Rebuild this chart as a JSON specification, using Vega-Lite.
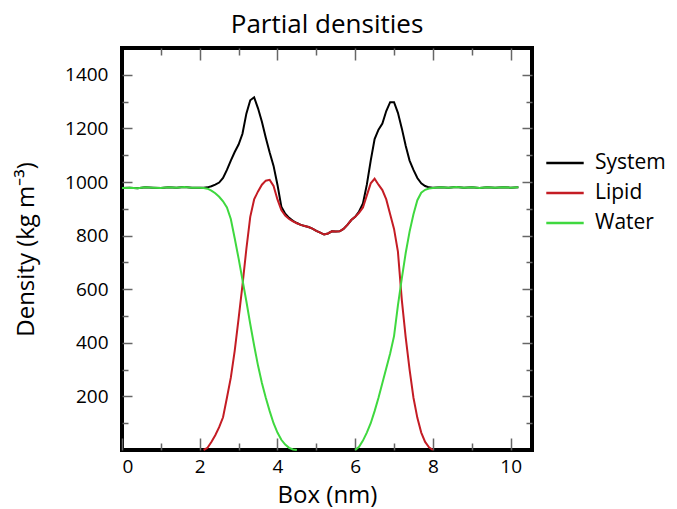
{
  "$schema": "https://vega.github.io/schema/vega-lite/v6.json",
  "width": 410,
  "height": 402,
  "autosize": {"type": "none"},
  "padding": {"left": 122, "top": 48, "right": 145, "bottom": 59},
  "title": {"text": "Partial densities", "fontSize": 26, "font": "Open Sans", "fontWeight": "normal", "color": "black", "offset": 9},
  "config": {
    "view": {"stroke": "black", "strokeWidth": 4},
    "font": "Open Sans",
    "axis": {
      "labelFont": "Open Sans", "labelFontSize": 19, "labelColor": "black",
      "titleFont": "Open Sans", "titleFontWeight": "normal", "titleColor": "black",
      "domain": false, "grid": false, "tickColor": "#666666", "tickWidth": 1.5
    },
    "legend": {"labelFont": "Open Sans", "labelFontSize": 21, "labelColor": "black"}
  },
  "data": {"values": [
    {"x": 0.0, "System": 978, "Lipid": null, "Water": 978},
    {"x": 0.2, "System": 979, "Lipid": null, "Water": 979},
    {"x": 0.4, "System": 977, "Lipid": null, "Water": 977},
    {"x": 0.6, "System": 980, "Lipid": null, "Water": 980},
    {"x": 0.8, "System": 979, "Lipid": null, "Water": 979},
    {"x": 1.0, "System": 978, "Lipid": null, "Water": 978},
    {"x": 1.2, "System": 980, "Lipid": null, "Water": 980},
    {"x": 1.4, "System": 979, "Lipid": null, "Water": 979},
    {"x": 1.6, "System": 981, "Lipid": null, "Water": 981},
    {"x": 1.8, "System": 979, "Lipid": null, "Water": 979},
    {"x": 2.0, "System": 979, "Lipid": null, "Water": 979},
    {"x": 2.1, "System": 979, "Lipid": 0, "Water": 978},
    {"x": 2.2, "System": 980, "Lipid": 8, "Water": 975},
    {"x": 2.3, "System": 984, "Lipid": 30, "Water": 968},
    {"x": 2.4, "System": 990, "Lipid": 55, "Water": 958},
    {"x": 2.5, "System": 998, "Lipid": 85, "Water": 945},
    {"x": 2.6, "System": 1015, "Lipid": 122, "Water": 928},
    {"x": 2.7, "System": 1045, "Lipid": 195, "Water": 905},
    {"x": 2.8, "System": 1080, "Lipid": 270, "Water": 862},
    {"x": 2.9, "System": 1112, "Lipid": 370, "Water": 790},
    {"x": 3.0, "System": 1140, "Lipid": 490, "Water": 715},
    {"x": 3.1, "System": 1180, "Lipid": 615, "Water": 635},
    {"x": 3.2, "System": 1255, "Lipid": 750, "Water": 555},
    {"x": 3.3, "System": 1305, "Lipid": 870, "Water": 470},
    {"x": 3.4, "System": 1316, "Lipid": 935, "Water": 390},
    {"x": 3.5, "System": 1275, "Lipid": 965, "Water": 315},
    {"x": 3.6, "System": 1225, "Lipid": 990, "Water": 250},
    {"x": 3.7, "System": 1165, "Lipid": 1005, "Water": 195},
    {"x": 3.8, "System": 1110, "Lipid": 1008, "Water": 145},
    {"x": 3.9, "System": 1060, "Lipid": 985, "Water": 100},
    {"x": 4.0, "System": 990, "Lipid": 935, "Water": 65},
    {"x": 4.1, "System": 908, "Lipid": 895, "Water": 38},
    {"x": 4.2, "System": 882, "Lipid": 875, "Water": 20},
    {"x": 4.3, "System": 866, "Lipid": 862, "Water": 8},
    {"x": 4.4, "System": 855, "Lipid": 853, "Water": 2},
    {"x": 4.5, "System": 847, "Lipid": 846, "Water": 0},
    {"x": 4.6, "System": 840, "Lipid": 840, "Water": null},
    {"x": 4.7, "System": 836, "Lipid": 836, "Water": null},
    {"x": 4.8, "System": 832, "Lipid": 832, "Water": null},
    {"x": 4.9, "System": 826, "Lipid": 826, "Water": null},
    {"x": 5.0, "System": 818, "Lipid": 818, "Water": null},
    {"x": 5.1, "System": 811, "Lipid": 811, "Water": null},
    {"x": 5.2, "System": 804, "Lipid": 804, "Water": null},
    {"x": 5.3, "System": 808, "Lipid": 808, "Water": null},
    {"x": 5.4, "System": 816, "Lipid": 816, "Water": null},
    {"x": 5.5, "System": 815, "Lipid": 815, "Water": null},
    {"x": 5.6, "System": 816, "Lipid": 816, "Water": null},
    {"x": 5.7, "System": 825, "Lipid": 825, "Water": null},
    {"x": 5.8, "System": 840, "Lipid": 840, "Water": null},
    {"x": 5.9, "System": 858, "Lipid": 858, "Water": null},
    {"x": 6.0, "System": 870, "Lipid": 870, "Water": 0},
    {"x": 6.1, "System": 890, "Lipid": 885, "Water": 12},
    {"x": 6.2, "System": 920, "Lipid": 905, "Water": 35},
    {"x": 6.3, "System": 990, "Lipid": 950, "Water": 65},
    {"x": 6.4, "System": 1080, "Lipid": 995, "Water": 100},
    {"x": 6.5, "System": 1160, "Lipid": 1012, "Water": 145},
    {"x": 6.6, "System": 1195, "Lipid": 990, "Water": 195},
    {"x": 6.7, "System": 1218, "Lipid": 970, "Water": 250},
    {"x": 6.8, "System": 1265, "Lipid": 935, "Water": 305},
    {"x": 6.9, "System": 1298, "Lipid": 880, "Water": 360},
    {"x": 7.0, "System": 1298, "Lipid": 825, "Water": 425},
    {"x": 7.1, "System": 1258, "Lipid": 740, "Water": 540},
    {"x": 7.2, "System": 1200, "Lipid": 560, "Water": 640},
    {"x": 7.3, "System": 1135, "Lipid": 420, "Water": 735},
    {"x": 7.4, "System": 1080, "Lipid": 300, "Water": 815},
    {"x": 7.5, "System": 1045, "Lipid": 195, "Water": 880},
    {"x": 7.6, "System": 1015, "Lipid": 120, "Water": 932},
    {"x": 7.7, "System": 995, "Lipid": 65, "Water": 960},
    {"x": 7.8, "System": 985, "Lipid": 30, "Water": 971},
    {"x": 7.9, "System": 980, "Lipid": 10, "Water": 976},
    {"x": 8.0, "System": 979, "Lipid": 0, "Water": 978},
    {"x": 8.2, "System": 980, "Lipid": null, "Water": 980},
    {"x": 8.4, "System": 979, "Lipid": null, "Water": 979},
    {"x": 8.6, "System": 981, "Lipid": null, "Water": 981},
    {"x": 8.8, "System": 979, "Lipid": null, "Water": 979},
    {"x": 9.0, "System": 980, "Lipid": null, "Water": 980},
    {"x": 9.2, "System": 978, "Lipid": null, "Water": 978},
    {"x": 9.4, "System": 980, "Lipid": null, "Water": 980},
    {"x": 9.6, "System": 979, "Lipid": null, "Water": 979},
    {"x": 9.8, "System": 980, "Lipid": null, "Water": 980},
    {"x": 10.0, "System": 979, "Lipid": null, "Water": 979},
    {"x": 10.2, "System": 980, "Lipid": null, "Water": 980}
  ]},
  "transform": [{"fold": ["System", "Lipid", "Water"], "as": ["series", "density"]}],
  "layer": [
    {
      "mark": {"type": "line", "strokeWidth": 2},
      "encoding": {
        "x": {
          "field": "x", "type": "quantitative",
          "scale": {"domain": [0, 10.55], "nice": false, "zero": false},
          "axis": {
            "orient": "bottom", "title": "Box (nm)", "titleFontSize": 24, "titlePadding": 7,
            "values": [0, 1, 2, 3, 4, 5, 6, 7, 8, 9, 10],
            "labelExpr": "datum.value % 2 === 0 ? datum.label : ''",
            "tickSize": {"condition": {"test": "datum.value % 2 === 0", "value": -12}, "value": -7},
            "labelPadding": 19
          }
        },
        "y": {
          "field": "density", "type": "quantitative",
          "scale": {"domain": [0, 1500], "nice": false},
          "axis": {
            "orient": "left", "title": "Density (kg m⁻³)", "titleFontSize": 24, "titlePadding": 26,
            "format": "d",
            "values": [100, 200, 300, 400, 500, 600, 700, 800, 900, 1000, 1100, 1200, 1300, 1400],
            "labelExpr": "datum.value % 200 === 0 ? datum.label : ''",
            "tickSize": {"condition": {"test": "datum.value % 200 === 0", "value": -10}, "value": -6},
            "labelPadding": 24
          }
        },
        "color": {
          "field": "series", "type": "nominal",
          "scale": {"domain": ["System", "Lipid", "Water"], "range": ["#000000", "#c41c24", "#3fd83f"]},
          "legend": {
            "title": null, "orient": "none", "legendX": 423, "legendY": 95,
            "symbolType": "stroke", "symbolSize": 1400, "symbolStrokeWidth": 2.5,
            "rowPadding": -10, "labelOffset": 10
          }
        }
      }
    },
    {
      "mark": {"type": "line", "strokeOpacity": 0},
      "encoding": {
        "x": {
          "field": "x", "type": "quantitative",
          "axis": {
            "orient": "top", "title": null, "labels": false,
            "values": [1, 2, 3, 4, 5, 6, 7, 8, 9, 10],
            "tickSize": {"condition": {"test": "datum.value % 2 === 0", "value": -12}, "value": -7}
          }
        },
        "y": {
          "field": "density", "type": "quantitative",
          "axis": {
            "orient": "right", "title": null, "labels": false,
            "values": [100, 200, 300, 400, 500, 600, 700, 800, 900, 1000, 1100, 1200, 1300, 1400],
            "tickSize": {"condition": {"test": "datum.value % 200 === 0", "value": -10}, "value": -6}
          }
        },
        "detail": {"field": "series", "type": "nominal"}
      }
    }
  ],
  "resolve": {"axis": {"x": "independent", "y": "independent"}}
}
